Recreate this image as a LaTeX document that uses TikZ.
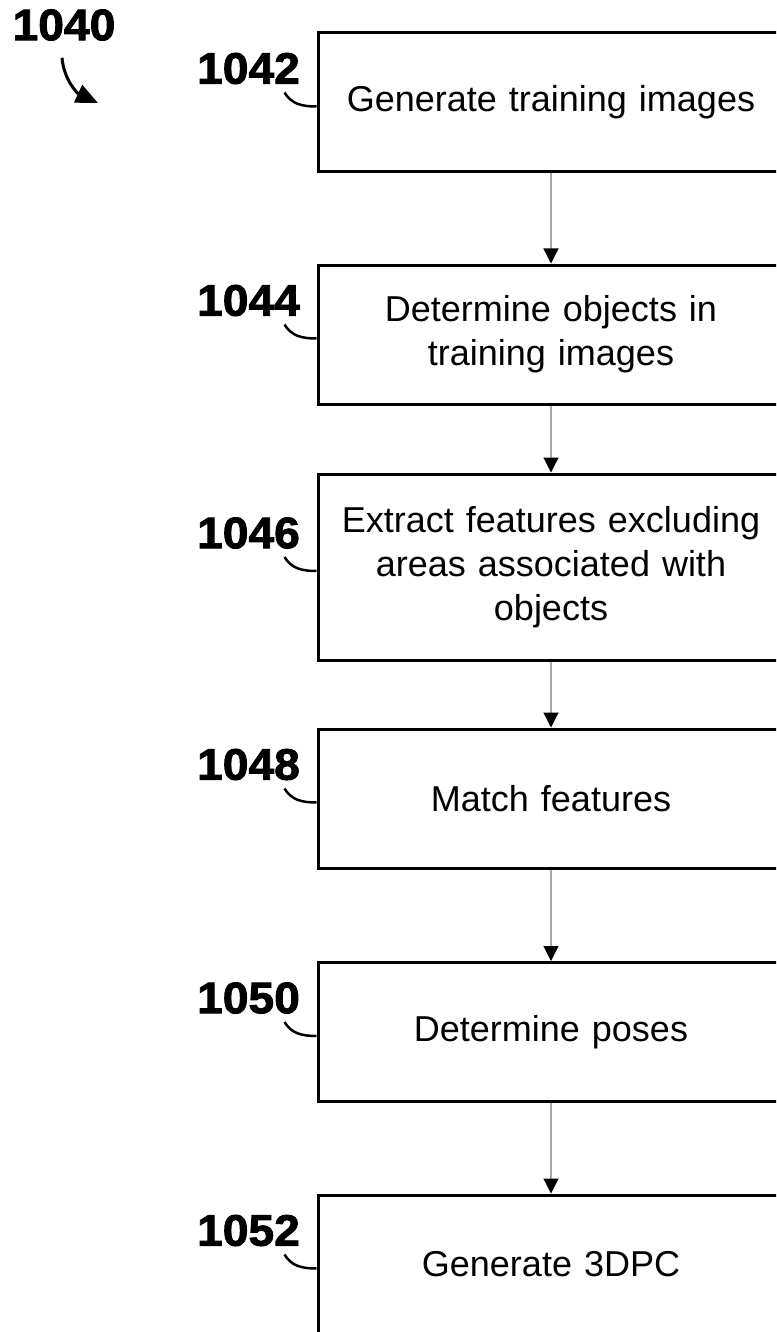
\documentclass[tikz,border=0pt]{standalone}
\usepackage{fontspec}
\setmainfont{Liberation Sans}
\newfontfamily\numfont[FakeBold=2,FakeStretch=1.05]{Liberation Sans Bold}
\usetikzlibrary{arrows.meta,calc,positioning}
\tikzset{>=latex}
\tikzset{
  stepbox/.style={draw, line width=3pt, minimum width=466pt, minimum height=139pt, text width=430pt, align=center, font=\fontsize{36}{44}\selectfont},
  reflabel/.style={inner sep=0pt, font=\numfont\fontsize{44}{44}\selectfont},
  flow/.style={draw=gray!70, line width=1.2pt, -{Triangle[length=15pt,width=15pt,color=black]}},
  leader/.style={line width=2.5pt},
}

\begin{document}
\begin{tikzpicture}[x=1pt,y=1pt]
    \useasboundingbox (0,0) rectangle (776,-1332);
    \clip (0,0) rectangle (776,-1332);

    % overall figure number
    \node[reflabel] (l1040) at (64,-25) {1040};
    \coordinate (a1040) at (98,-103);
    \draw[leader, line width=3pt, -{Triangle[length=22pt,width=19pt]}] ($(l1040.south)+(-2,-17)$) to[out=-85,in=155] (a1040);

    % steps of the flow
    \foreach \n/\y/\h/\txt in {1042/102.5/139/{Generate training images},
                               1044/334.5/139/{Determine objects in\\training images},
                               1046/567/186/{Extract features excluding\\areas associated with\\objects},
                               1048/798.5/139/{Match features},
                               1050/1032/139/{Determine poses},
                               1052/1264.5/139/{Generate 3DPC}} {
        \node[stepbox, minimum height=\h pt] (b\n) at (551,-\y) {\txt};
        \node[reflabel] (l\n) at ($(b\n.west)+(-68,34)$) {\n};
        \draw[leader] ($(b\n.west)+(-32,10)$) to[out=-60,in=180] ($(b\n.west)+(0,-4)$);
    }

    \foreach \a/\b in {1042/1044,1044/1046,1046/1048,1048/1050,1050/1052} {
        \draw[flow] (b\a) -- (b\b);
    }
\end{tikzpicture}
\end{document}
